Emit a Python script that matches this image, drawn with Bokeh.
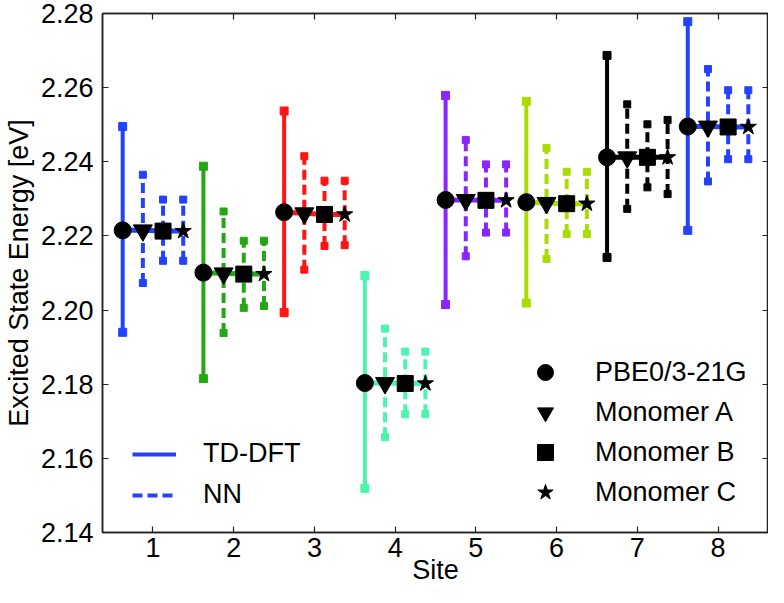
from bokeh.plotting import figure
from bokeh.models import (ColumnDataSource, Range1d, LinearAxis, FixedTicker,
                          Legend, LegendItem)
from bokeh.embed import file_html
from bokeh.resources import INLINE

# ---------------- data ----------------
sites = [1, 2, 3, 4, 5, 6, 7, 8]
site_colors = ["#2342ff", "#22a814", "#ff1414", "#4cf5ae",
               "#8a25ff", "#aadc00", "#000000", "#2342ff"]

# TD-DFT (PBE0/3-21G): mean, lower, upper
pbe0 = [2.2215, 2.2101, 2.2264, 2.1803, 2.2297, 2.2291, 2.2412, 2.2495]
pbe0_lo = [2.1940, 2.1815, 2.1993, 2.1519, 2.2015, 2.2019, 2.2142, 2.2215]
pbe0_hi = [2.2495, 2.2388, 2.2537, 2.2093, 2.2579, 2.2563, 2.2687, 2.2778]

# NN, Monomer A
mono_a = [2.2215, 2.2099, 2.2261, 2.1803, 2.2297, 2.2289, 2.2412, 2.2495]
mono_a_lo = [2.2073, 2.1938, 2.2109, 2.1657, 2.2145, 2.2138, 2.2273, 2.2347]
mono_a_hi = [2.2365, 2.2266, 2.2415, 2.1950, 2.2459, 2.2437, 2.2555, 2.2650]

# NN, Monomer B
mono_b = [2.2213, 2.2097, 2.2258, 2.1802, 2.2296, 2.2287, 2.2412, 2.2494]
mono_b_lo = [2.2133, 2.2006, 2.2173, 2.1719, 2.2209, 2.2205, 2.2331, 2.2407]
mono_b_hi = [2.2298, 2.2187, 2.2349, 2.1888, 2.2393, 2.2373, 2.2501, 2.2593]

# NN, Monomer C
mono_c = [2.2213, 2.2097, 2.2258, 2.1802, 2.2296, 2.2287, 2.2412, 2.2494]
mono_c_lo = [2.2133, 2.2011, 2.2175, 2.1719, 2.2209, 2.2205, 2.2313, 2.2407]
mono_c_hi = [2.2298, 2.2187, 2.2349, 2.1888, 2.2393, 2.2373, 2.2513, 2.2593]

y_ticks = [2.14, 2.16, 2.18, 2.20, 2.22, 2.24, 2.26, 2.28]
y_tick_labels = ["2.14", "2.16", "2.18", "2.20", "2.22", "2.24", "2.26", "2.28"]
x_tick_labels = ["1", "2", "3", "4", "5", "6", "7", "8"]

method_labels = ["PBE0/3-21G", "Monomer A", "Monomer B", "Monomer C"]
offsets = [-0.375, -0.125, 0.125, 0.375]

FONT = "Liberation Sans"
FS = "27px"

p = figure(width=768, height=587,
           x_range=Range1d(0.375, 8.625), y_range=Range1d(2.14, 2.28),
           output_backend="svg", toolbar_location=None,
           min_border_left=97, min_border_right=0, min_border_top=13,
           min_border_bottom=10)
p.xgrid.visible = False
p.ygrid.visible = False
p.outline_line_color = "#222222"
p.outline_line_width = 1.5
p.background_fill_color = "white"
p.border_fill_color = "white"

# axes
p.xaxis.ticker = FixedTicker(ticks=sites)
p.xaxis.major_label_overrides = {s: l for s, l in zip(sites, x_tick_labels)}
p.yaxis.ticker = FixedTicker(ticks=y_ticks)
p.yaxis.major_label_overrides = {t: l for t, l in zip(y_ticks, y_tick_labels)}
for ax in (p.xaxis[0], p.yaxis[0]):
    ax.major_tick_in = 6
    ax.major_tick_out = 0
    ax.minor_tick_line_color = None
    ax.axis_line_color = "#222222"
    ax.axis_line_width = 1.5
    ax.major_tick_line_color = "#222222"
    ax.major_tick_line_width = 1.2
    ax.major_label_text_font = FONT
    ax.major_label_text_font_size = FS
    ax.major_label_text_color = "black"
    ax.axis_label_text_font = FONT
    ax.axis_label_text_font_size = FS
    ax.axis_label_text_font_style = "normal"
    ax.axis_label_text_color = "black"
p.xaxis.axis_label = "Site"
p.yaxis.axis_label = "Excited State Energy [eV]"
p.xaxis.major_label_standoff = 5
p.xaxis.axis_label_standoff = -5
p.yaxis.major_label_standoff = 9
p.yaxis.axis_label_standoff = 4

for loc, tk in (("right", y_ticks), ("above", sites)):
    ax = LinearAxis(ticker=FixedTicker(ticks=tk), major_label_text_color=None,
                    major_label_text_font_size="1px",
                    major_label_standoff=0, major_tick_in=6, major_tick_out=0,
                    minor_tick_line_color=None, axis_line_color="#222222",
                    axis_line_width=1.5, major_tick_line_color="#222222",
                    major_tick_line_width=1.2)
    p.add_layout(ax, loc)

# ---------------- glyphs ----------------
series = [(pbe0, pbe0_lo, pbe0_hi), (mono_a, mono_a_lo, mono_a_hi),
          (mono_b, mono_b_lo, mono_b_hi), (mono_c, mono_c_lo, mono_c_hi)]

bar_renderers = []
for k, (mean, lo, hi) in enumerate(series):
    src = ColumnDataSource(dict(
        x=[s + offsets[k] for s in sites], lo=lo, hi=hi, color=site_colors))
    dash = "solid" if k == 0 else "10 5"
    r = p.segment(x0="x", y0="lo", x1="x", y1="hi", source=src,
                  line_color="color", line_width=4, line_dash=dash)
    bar_renderers.append(r)
    cap = 8 if k == 0 else 7
    p.scatter(x="x", y="lo", source=src, marker="square", size=cap,
              fill_color="color", line_color="color")
    p.scatter(x="x", y="hi", source=src, marker="square", size=cap,
              fill_color="color", line_color="color")

# connecting lines through the four estimates of each site
xs = [[s + o for o in offsets] for s in sites]
ys = [[series[k][0][i] for k in range(4)] for i in range(len(sites))]
p.multi_line(xs=xs, ys=ys, line_color=site_colors, line_width=5)

markers = ["circle", "inverted_triangle", "square", "star"]
msizes = [17, 19, 16, 17]
marker_renderers = []
for k, (mean, lo, hi) in enumerate(series):
    src = ColumnDataSource(dict(x=[s + offsets[k] for s in sites], y=mean))
    r = p.scatter(x="x", y="y", source=src, marker=markers[k], size=msizes[k],
                  fill_color="black", line_color="black")
    marker_renderers.append(r)

# ---------------- legends ----------------
leg1 = Legend(items=[LegendItem(label="TD-DFT", renderers=[bar_renderers[0]], index=0),
                     LegendItem(label="NN", renderers=[bar_renderers[1]], index=0)],
              location=(30, 22), glyph_width=44, glyph_height=20,
              label_standoff=27, spacing=10, padding=0, margin=0,
              border_line_color=None, background_fill_alpha=0,
              label_text_font=FONT, label_text_font_size=FS,
              label_text_color="black", label_height=31)
leg2 = Legend(items=[LegendItem(label=method_labels[k], renderers=[marker_renderers[k]], index=0)
                     for k in range(4)],
              location=(423, 20), glyph_width=40, glyph_height=40,
              label_standoff=30, spacing=0, padding=0, margin=0,
              border_line_color=None, background_fill_alpha=0,
              label_text_font=FONT, label_text_font_size=FS,
              label_text_color="black", label_height=40)
p.add_layout(leg1)
p.add_layout(leg2)

open("out.html", "w").write(file_html(p, INLINE))
